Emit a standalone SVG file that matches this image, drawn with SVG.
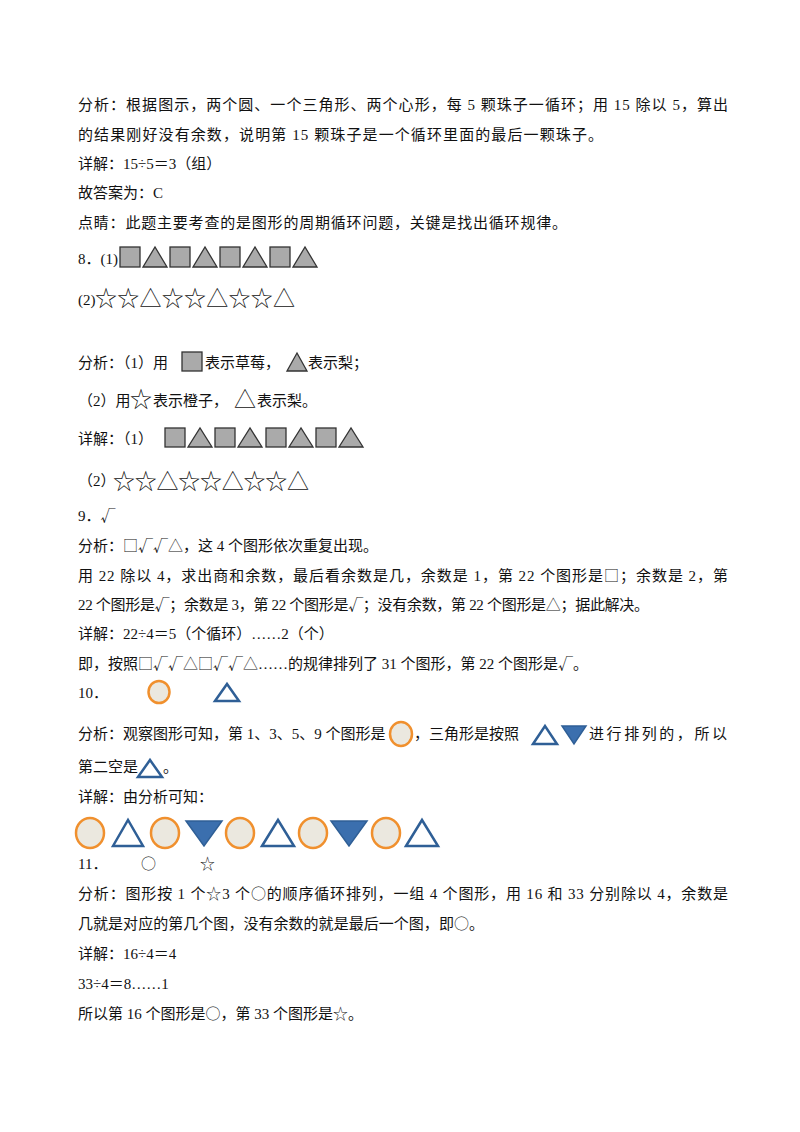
<svg xmlns="http://www.w3.org/2000/svg" width="800" height="1132" viewBox="0 0 800 1132">
<style>
text{font-family:"Liberation Serif","Noto Sans CJK SC",serif;font-size:15px;fill:#111}
.sym{font-family:"Noto Sans CJK SC",sans-serif;font-weight:300}
.big{font-family:"Noto Sans CJK SC",sans-serif;font-size:22px;font-weight:300}
.sq{fill:#aaa;stroke:#333;stroke-width:1.3}
.tr{fill:#aaa;stroke:#333;stroke-width:1.3}
.ci{fill:#ebe8df;stroke:#f0902e;stroke-width:2.5}
.bt{fill:none;stroke:#2f5f96;stroke-width:2.5}
.bf{fill:#3b6fae;stroke:#2f5f96;stroke-width:1.5}
</style>
<rect width="800" height="1132" fill="#fff"/>
<text x="78" y="110" textLength="650">分析：根据图示，两个圆、一个三角形、两个心形，每 5 颗珠子一循环；用 15 除以 5，算出</text>
<text x="78" y="140" textLength="525">的结果刚好没有余数，说明第 15 颗珠子是一个循环里面的最后一颗珠子。</text>
<text x="78" y="169">详解：15÷5＝3（组）</text>
<text x="78" y="198">故答案为：C</text>
<text x="78" y="228" textLength="489">点睛：此题主要考查的是图形的周期循环问题，关键是找出循环规律。</text>

<g id="q8">
<text x="78" y="264">8．(1)</text>
<rect class="sq" x="120" y="247" width="20" height="20"/><polygon class="tr" points="143,267 155,247 167,267"/>
<rect class="sq" x="170" y="247" width="20" height="20"/><polygon class="tr" points="193,267 205,247 217,267"/>
<rect class="sq" x="220" y="247" width="20" height="20"/><polygon class="tr" points="243,267 255,247 267,267"/>
<rect class="sq" x="270" y="247" width="20" height="20"/><polygon class="tr" points="293,267 305,247 317,267"/>
<text x="78" y="305">(2)</text>
<text class="big" x="95" y="306" textLength="200">☆☆△☆☆△☆☆△</text>

<text x="78" y="368">分析：（1）用</text>
<rect class="sq" x="182" y="352" width="20" height="19"/>
<text x="205" y="368">表示草莓，</text>
<polygon class="tr" points="287,371 297,353 307,371"/>
<text x="308" y="368">表示梨；</text>
<text x="78" y="406">（2）用</text>
<text class="big" x="130" y="407">☆</text>
<text x="153" y="406">表示橙子，</text>
<text class="big" x="234" y="407">△</text>
<text x="257" y="406">表示梨。</text>

<text x="78" y="444">详解：（1）</text>
<rect class="sq" x="165" y="428" width="20" height="19"/><polygon class="tr" points="188,447 200,428 212,447"/>
<rect class="sq" x="215" y="428" width="20" height="19"/><polygon class="tr" points="238,447 250,428 262,447"/>
<rect class="sq" x="266" y="428" width="20" height="19"/><polygon class="tr" points="289,447 301,428 313,447"/>
<rect class="sq" x="316" y="428" width="20" height="19"/><polygon class="tr" points="339,447 351,428 363,447"/>
<text x="78" y="486">（2）</text>
<text class="big" x="113" y="489" textLength="196">☆☆△☆☆△☆☆△</text>
</g>

<g id="q9">
<text x="78" y="521">9．<tspan class="sym">√</tspan></text>
<text x="78" y="551">分析：<tspan class="sym">□√√△</tspan>，这 4 个图形依次重复出现。</text>
<text x="78" y="581" textLength="650">用 22 除以 4，求出商和余数，最后看余数是几，余数是 1，第 22 个图形是<tspan class="sym">□</tspan>；余数是 2，第</text>
<text x="78" y="610" textLength="571">22 个图形是<tspan class="sym">√</tspan>；余数是 3，第 22 个图形是<tspan class="sym">√</tspan>；没有余数，第 22 个图形是<tspan class="sym">△</tspan>；据此解决。</text>
<text x="78" y="639">详解：22÷4＝5（个循环）……2（个）</text>
<text x="78" y="669">即，按照<tspan class="sym">□√√△□√√△</tspan>……的规律排列了 31 个图形，第 22 个图形是<tspan class="sym">√</tspan>。</text>
</g>

<g id="q10">
<text x="78" y="698">10．</text>
<ellipse class="ci" cx="159" cy="692" rx="10.5" ry="11"/>
<polygon class="bt" points="215,701 227,684 239,701"/>
<text x="78" y="739">分析：观察图形可知，第 1、3、5、9 个图形是</text>
<ellipse class="ci" cx="401" cy="734" rx="11" ry="12"/>
<text x="414" y="739">，三角形是按照</text>
<polygon class="bt" points="533,744 545,726 557,744"/>
<polygon class="bf" points="562,726 586,726 574,744"/>
<text x="589" y="739" textLength="138">进行排列的，所以</text>
<text x="78" y="772">第二空是</text>
<polygon class="bt" points="138,777 150,760 162,777"/>
<text x="163" y="772">。</text>
<text x="78" y="802">详解：由分析可知：</text>
<ellipse class="ci" cx="90" cy="833" rx="14" ry="15"/>
<polygon class="bt" points="113,846 128,820 143,846"/>
<ellipse class="ci" cx="165" cy="833" rx="14" ry="15"/>
<polygon class="bf" points="186,821 222,821 204,846"/>
<ellipse class="ci" cx="240" cy="833" rx="14" ry="15"/>
<polygon class="bt" points="262,846 278,820 294,846"/>
<ellipse class="ci" cx="313" cy="833" rx="14" ry="15"/>
<polygon class="bf" points="331,821 367,821 349,846"/>
<ellipse class="ci" cx="386" cy="833" rx="14" ry="15"/>
<polygon class="bt" points="406,846 422,820 438,846"/>
</g>

<g id="q11">
<text x="78" y="869">11．</text>
<text class="sym" x="141" y="869">○</text>
<text class="sym" x="200" y="869">☆</text>
<text x="78" y="899" textLength="650">分析：图形按 1 个<tspan class="sym">☆</tspan>3 个<tspan class="sym">○</tspan>的顺序循环排列，一组 4 个图形，用 16 和 33 分别除以 4，余数是</text>
<text x="78" y="929" textLength="406">几就是对应的第几个图，没有余数的就是最后一个图，即<tspan class="sym">○</tspan>。</text>
<text x="78" y="959">详解：16÷4＝4</text>
<text x="78" y="989">33÷4＝8……1</text>
<text x="78" y="1019">所以第 16 个图形是<tspan class="sym">○</tspan>，第 33 个图形是<tspan class="sym">☆</tspan>。</text>
</g>
</svg>
